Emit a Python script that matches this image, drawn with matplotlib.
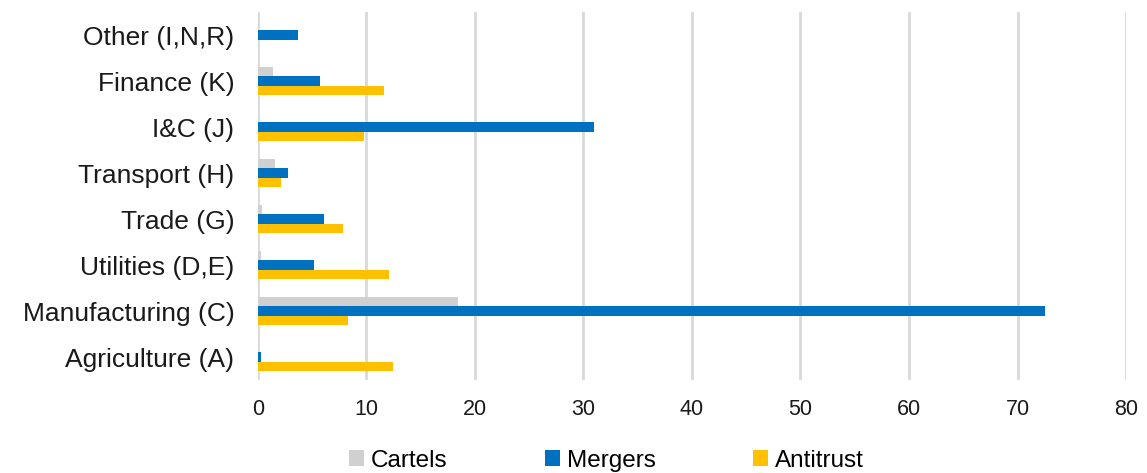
import matplotlib
matplotlib.use("Agg")
import matplotlib.pyplot as plt
from matplotlib.patches import Patch
import numpy as np

plt.rcParams['font.family'] = ['Liberation Sans', 'DejaVu Sans']

categories = ["Agriculture (A)", "Manufacturing (C)", "Utilities (D,E)", "Trade (G)",
              "Transport (H)", "I&C (J)", "Finance (K)", "Other (I,N,R)"]
cartels = [0.0, 18.4, 0.3, 0.4, 1.6, 0.0, 1.4, 0.1]
mergers = [0.3, 72.5, 5.2, 6.1, 2.8, 31.0, 5.7, 3.7]
antitrust = [12.4, 8.3, 12.1, 7.8, 2.1, 9.75, 11.6, 0.0]
x_ticks = [0, 10, 20, 30, 40, 50, 60, 70, 80]

series = [("Cartels", cartels, "#D0D0D0"),
          ("Mergers", mergers, "#0070C0"),
          ("Antitrust", antitrust, "#FFC000")]

fig = plt.figure(figsize=(11.47, 4.73), dpi=100)
ax = fig.add_axes([0.2249, 0.1966, 0.7568, 0.778])

y = np.arange(len(categories))
h = 0.2
offsets = [h, 0.0, -h]
for (name, vals, col), off in zip(series, offsets):
    ax.barh(y + off, vals, height=h, color=col, edgecolor="none", zorder=3)

ax.set_xlim(0, 80)
ax.set_ylim(-0.5, len(categories) - 0.5)
ax.set_xticks(x_ticks)
ax.set_xticklabels([str(t) for t in x_ticks], fontsize=15.5, color="#1a1a1a")
ax.set_yticks(y)
ax.set_yticklabels(categories, fontsize=19, color="#1a1a1a")
ax.tick_params(axis="both", length=0)
ax.tick_params(axis="x", pad=14)
ax.tick_params(axis="y", pad=17)
ax.grid(axis="x", color="#D9D9D9", linewidth=2, zorder=0)
for s in ax.spines.values():
    s.set_visible(False)

handles = [Patch(facecolor=c, edgecolor="none", label=n) for n, _, c in series]
fig.legend(handles=handles, loc="center", bbox_to_anchor=(0.5288, 0.026), ncol=3,
           frameon=False, fontsize=17.5, handlelength=0.62, handleheight=0.62,
           handletextpad=0.29, columnspacing=4.0, borderpad=0, borderaxespad=0)

fig.savefig("out.png", dpi=100)
